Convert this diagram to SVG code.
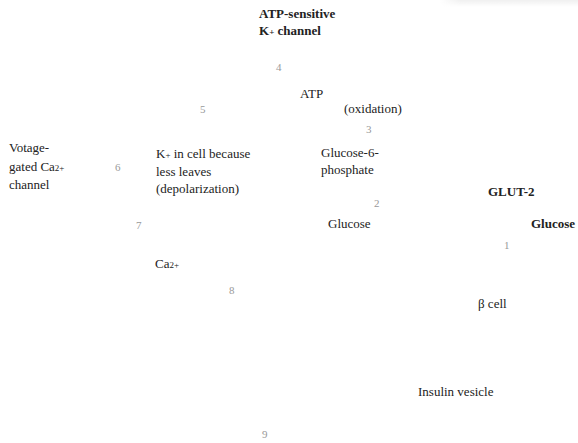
<svg xmlns="http://www.w3.org/2000/svg" width="578" height="443" viewBox="0 0 578 443">
<defs>
<linearGradient id="sh" x1="0" y1="0" x2="0" y2="1">
<stop offset="0" stop-color="#000" stop-opacity="0.06"/>
<stop offset="1" stop-color="#000" stop-opacity="0"/>
</linearGradient>
<linearGradient id="shx" x1="0" y1="0" x2="1" y2="0">
<stop offset="0" stop-color="#fff" stop-opacity="1"/>
<stop offset="0.15" stop-color="#fff" stop-opacity="0"/>
</linearGradient>
</defs>
<style>
text{font-family:"Liberation Serif","Times New Roman",serif;font-size:13px;fill:#222}
.b{font-weight:bold}
.n{font-size:11px;fill:#999}
.s{font-size:9px}
</style>
<rect width="578" height="443" fill="#fff"/>
<rect x="440" y="0" width="138" height="7" fill="url(#sh)"/>
<rect x="440" y="0" width="138" height="7" fill="url(#shx)"/>
<g id="connectors"></g>
<g id="k-channel"><text class="b" x="259" y="18">ATP-sensitive</text><text class="b" x="259" y="35">K<tspan class="s">+</tspan> channel</text></g>
<g id="n4"><text class="n" x="276" y="71">4</text></g>
<g id="atp"><text x="300" y="98">ATP</text></g>
<g id="n5"><text class="n" x="200" y="113">5</text></g>
<g id="oxidation"><text x="344" y="113">(oxidation)</text></g>
<g id="n3"><text class="n" x="366" y="133">3</text></g>
<g id="ca-channel"><text x="9" y="152">Votage-</text><text x="9" y="171">gated Ca<tspan class="s">2+</tspan></text><text x="9" y="189">channel</text></g>
<g id="n6"><text class="n" x="115" y="171">6</text></g>
<g id="depol"><text x="156" y="158">K<tspan class="s">+</tspan> in cell because</text><text x="156" y="176">less leaves</text><text x="156" y="193">(depolarization)</text></g>
<g id="g6p"><text x="321" y="157">Glucose-6-</text><text x="321" y="174">phosphate</text></g>
<g id="glut2"><text class="b" x="488" y="196">GLUT-2</text></g>
<g id="n2"><text class="n" x="374" y="207">2</text></g>
<g id="n7"><text class="n" x="136" y="229">7</text></g>
<g id="glucose-in"><text x="328" y="228">Glucose</text></g>
<g id="glucose-out"><text class="b" x="531" y="228">Glucose</text></g>
<g id="n1"><text class="n" x="504" y="249">1</text></g>
<g id="ca"><text x="155" y="268">Ca<tspan class="s">2+</tspan></text></g>
<g id="n8"><text class="n" x="229" y="294">8</text></g>
<g id="beta"><text x="478" y="308">β cell</text></g>
<g id="vesicle"><text x="418" y="396">Insulin vesicle</text></g>
<g id="n9"><text class="n" x="262" y="438">9</text></g>
</svg>
